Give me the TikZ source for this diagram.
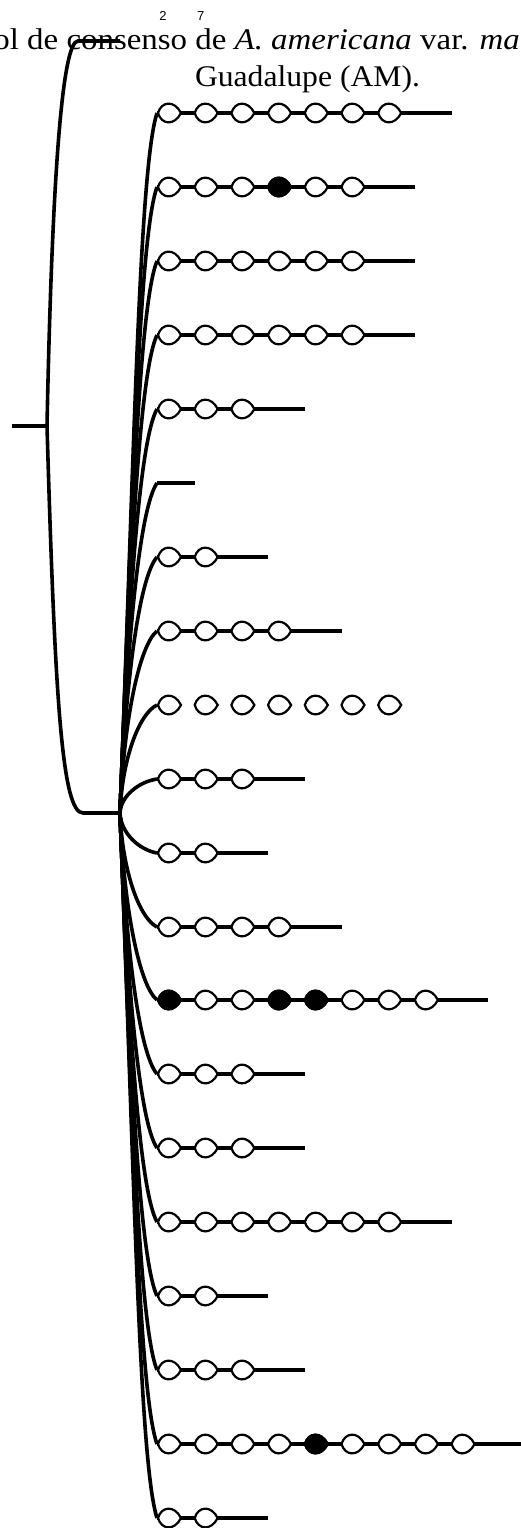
\documentclass[tikz,border=0pt]{standalone}
\usepackage{fontspec}
\setmainfont{Liberation Serif}
\newfontfamily\digitfont{Liberation Sans}
\usetikzlibrary{positioning}

\tikzset{
  branch/.style={line width=3.6pt},
  stem/.style={line width=3.4pt},
  nostem/.style={draw=none},
  title/.style={inner sep=0pt, font=\fontsize{30}{36}\selectfont},
  digit/.style={inner sep=0pt, font=\digitfont\fontsize{13}{14}\selectfont},
  pics/bead/.style={code={
    \draw[line width=2.2pt, fill=#1] (-11.5,0) .. controls (-8,-12) and (5,-13) .. (11.5,0)
      .. controls (5,13) and (-8,12) .. cycle;}},
  pics/bead/.default=white,
}

\begin{document}
\begin{tikzpicture}[x=1pt, y=-1pt]
  \useasboundingbox (0,0) rectangle (521,1528);
  \clip (0,0) rectangle (521,1528);

  \node[title, anchor=base west] (head) at (-58,50)
    {\scalebox{1.097}[1]{Árbol de consenso de \textit{A. americana} var. \textit{marginata}}};
  \node[title, anchor=base] (place) at (307.5,86) {\scalebox{1.055}[1]{Guadalupe (AM).}};
  \node[digit, anchor=base] (d2) at (163,21) {2};
  \node[digit, right=30pt of d2] (d7) {7};

  \coordinate (stub) at (12,426);
  \coordinate (root) at (47,426);
  \coordinate (top) at (78,41);
  \coordinate (topend) at (120,41);
  \coordinate (low) at (83,813);
  \coordinate (hub) at (120,813);
  \draw[branch] (stub) -- (root);
  \draw[branch] (root) .. controls (52,180) and (62,41) .. (top) -- (topend);
  \draw[branch] (root) .. controls (55,700) and (62,813) .. (low) -- (hub);

  \foreach \y/\n/\ln [count=\r] in {113/7/stem, 187/6/stem, 261/6/stem, 335/6/stem,
      409/3/stem, 483/0/stem, 557/2/stem, 631/4/stem, 705/7/nostem, 779/3/stem,
      853/2/stem, 927/4/stem, 1000/8/stem, 1074/3/stem, 1148/3/stem, 1222/7/stem,
      1296/2/stem, 1370/3/stem, 1444/9/stem, 1518/2/stem} {
    \pgfmathsetmacro{\dy}{\y-813}
    \pgfmathsetmacro{\ax}{0.02*abs(\dy)}
    \pgfmathsetmacro{\ex}{158+(\n+1)*36.7}
    \coordinate (s\r) at (157,\y);
    \coordinate (e\r) at (\ex,\y);
    \draw[branch] (hub) .. controls +(\ax,0.5*\dy) and +(-18,-0.08*\dy) .. (s\r);
    \draw[\ln] (s\r) -- (e\r);
    \ifnum\n>0
      \foreach \k in {1,...,\n} \pic (b\r-\k) at (132.8+36.7*\k,\y) {bead};
    \fi
  }

  \foreach \x/\y in {279.6/187, 169.5/1000, 279.6/1000, 316.3/1000, 316.3/1444}
    \pic at (\x,\y) {bead=black};
\end{tikzpicture}
\end{document}
